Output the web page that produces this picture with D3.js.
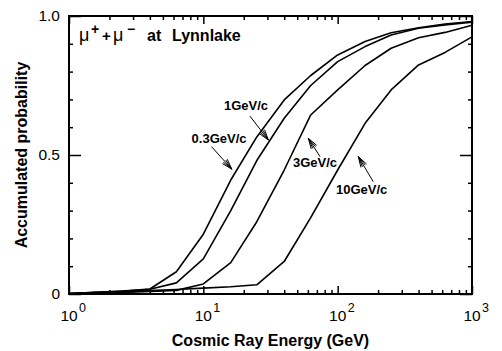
<!DOCTYPE html>
<html>
<head>
<meta charset="utf-8">
<script src="https://cdn.jsdelivr.net/npm/d3@7"></script>
<style>
  body { margin: 0; background: #fff; }
  svg { display: block; font-family: "Liberation Sans", Arial, Helvetica, sans-serif; }
</style>
</head>
<body>
<div id="chart"></div>
<script>
// cosmic ray energy (GeV) at the polyline vertices
const energies = [1, 1.6, 2.5, 4, 6.3, 10, 16, 25, 40, 63, 100, 160, 250, 400, 630, 1000];

// accumulated probability, one list per muon momentum
const prob03 = [0.002, 0.006, 0.011, 0.018, 0.080, 0.215, 0.410, 0.565, 0.698, 0.786, 0.860, 0.908, 0.940, 0.958, 0.971, 0.980];
const prob1  = [0.002, 0.006, 0.010, 0.017, 0.040, 0.126, 0.300, 0.480, 0.632, 0.750, 0.836, 0.890, 0.932, 0.956, 0.968, 0.978];
const prob3  = [0.001, 0.003, 0.006, 0.009, 0.013, 0.036, 0.113, 0.260, 0.446, 0.644, 0.734, 0.822, 0.884, 0.922, 0.941, 0.967];
const prob10 = [0.002, 0.005, 0.009, 0.012, 0.016, 0.021, 0.026, 0.033, 0.117, 0.275, 0.446, 0.614, 0.734, 0.824, 0.869, 0.925];

const seriesNames = ["0.3GeV/c", "1GeV/c", "3GeV/c", "10GeV/c"];
const seriesValues = [prob03, prob1, prob3, prob10];

const xTickPowers = [0, 1, 2, 3];
const yTickValues = [0, 0.5, 1.0];
const yTickLabels = ["0", "0.5", "1.0"];

// label anchor, arrow tail and arrow tip in data units
const labelE = [13.1, 20.8, 67.8, 151];
const labelP = [0.543, 0.662, 0.458, 0.360];
const tailE  = [11.5, 22.2, 73.9, 184];
const tailP  = [0.530, 0.640, 0.494, 0.404];
const tipE   = [16.3, 30.5, 60.5, 142.5];
const tipP   = [0.449, 0.554, 0.560, 0.494];

const W = 502, H = 351;
const margin = {top: 16, right: 30, bottom: 57, left: 69};
const width = W - margin.left - margin.right;
const height = H - margin.top - margin.bottom;

const svg = d3.select("#chart").append("svg")
    .attr("width", W)
    .attr("height", H);

const g = svg.append("g")
    .attr("transform", `translate(${margin.left},${margin.top})`);

const x = d3.scaleLog().domain([1, 1000]).range([0, width]);
const y = d3.scaleLinear().domain([0, 1]).range([height, 0]);

// ticks, all pointing inward
const xAll = x.ticks();
const xMajor = xAll.filter(d => Number.isInteger(Math.log10(d)));
const xMinor = xAll.filter(d => !Number.isInteger(Math.log10(d)));
const yMinor = y.ticks(10).filter(d => yTickValues.indexOf(d) < 0);

function tickAxis(axis, values, size, tx, ty) {
    const a = g.append("g")
        .attr("transform", `translate(${tx},${ty})`)
        .call(axis.tickValues(values).tickSize(size).tickFormat(""));
    a.select(".domain").remove();
    a.selectAll("line").attr("stroke", "#000").attr("stroke-width", 1.5);
}
tickAxis(d3.axisBottom(x), xMajor, -8, 0, height);
tickAxis(d3.axisBottom(x), xMinor, -4, 0, height);
tickAxis(d3.axisTop(x), xMajor, -8, 0, 0);
tickAxis(d3.axisTop(x), xMinor, -4, 0, 0);
tickAxis(d3.axisLeft(y), yTickValues, -12, 0, 0);
tickAxis(d3.axisLeft(y), yMinor, -4, 0, 0);
tickAxis(d3.axisRight(y), yTickValues, -12, width, 0);
tickAxis(d3.axisRight(y), yMinor, -4, width, 0);

// frame
g.append("rect")
    .attr("width", width)
    .attr("height", height)
    .attr("fill", "none")
    .attr("stroke", "#000")
    .attr("stroke-width", 2);

// curves
const line = d3.line()
    .x((d, i) => x(energies[i]))
    .y(d => y(d));

g.selectAll(".curve")
    .data(seriesValues)
    .enter()
    .append("path")
    .attr("class", "curve")
    .attr("d", line)
    .attr("fill", "none")
    .attr("stroke", "#000")
    .attr("stroke-width", 1.6)
    .attr("stroke-linejoin", "round");

// y tick labels
g.selectAll(".ylab")
    .data(yTickValues)
    .enter()
    .append("text")
    .attr("x", -9)
    .attr("y", d => y(d))
    .attr("dy", "0.35em")
    .attr("text-anchor", "end")
    .attr("font-size", 15.5)
    .text((d, i) => yTickLabels[i]);

// x tick labels 10^n
const xl = g.selectAll(".xlab")
    .data(xTickPowers)
    .enter()
    .append("g")
    .attr("transform", d => `translate(${x(Math.pow(10, d))},${height + 27})`);
xl.append("text")
    .attr("text-anchor", "middle")
    .attr("font-size", 15.5)
    .text("10");
xl.append("text")
    .attr("x", 10)
    .attr("y", -9)
    .attr("font-size", 12.5)
    .text(d => d);

// axis titles
g.append("text")
    .attr("x", width / 2)
    .attr("y", height + 52)
    .attr("text-anchor", "middle")
    .attr("font-size", 16)
    .attr("font-weight", "bold")
    .text("Cosmic Ray Energy (GeV)");

svg.append("text")
    .attr("transform", `translate(27,${margin.top + y(0.5)}) rotate(-90)`)
    .attr("text-anchor", "middle")
    .attr("font-size", 16)
    .attr("font-weight", "bold")
    .text("Accumulated probability");

// inset title
const title = svg.append("text").attr("y", 41).attr("font-weight", "bold");
title.append("tspan").attr("x", 79).attr("font-size", 18).attr("font-weight", "normal").text("μ");
title.append("tspan").attr("x", 91).attr("y", 34).attr("font-size", 14).text("+");
title.append("tspan").attr("x", 102).attr("y", 41).attr("font-size", 15).text("+");
title.append("tspan").attr("x", 113).attr("font-size", 18).attr("font-weight", "normal").text("μ");
title.append("tspan").attr("x", 127).attr("y", 34).attr("font-size", 14).text("−");
title.append("tspan").attr("x", 147).attr("y", 41).attr("font-size", 16).text("at");
title.append("tspan").attr("x", 172).attr("font-size", 16).text("Lynnlake");

// curve labels with arrows
seriesNames.forEach((name, i) => {
    g.append("text")
        .attr("x", x(labelE[i]))
        .attr("y", y(labelP[i]))
        .attr("text-anchor", "middle")
        .attr("font-size", 13)
        .attr("font-weight", "bold")
        .text(name);

    const x0 = x(tailE[i]), y0 = y(tailP[i]);
    const x1 = x(tipE[i]), y1 = y(tipP[i]);
    g.append("line")
        .attr("x1", x0).attr("y1", y0)
        .attr("x2", x1).attr("y2", y1)
        .attr("stroke", "#000").attr("stroke-width", 1);

    const ang = Math.atan2(y0 - y1, x0 - x1);
    const len = 11, spread = 0.3;
    [-spread, spread, -spread / 2, spread / 2].forEach(s => {
        g.append("line")
            .attr("x1", x1).attr("y1", y1)
            .attr("x2", x1 + len * Math.cos(ang + s))
            .attr("y2", y1 + len * Math.sin(ang + s))
            .attr("stroke", "#000").attr("stroke-width", 1);
    });
});
</script>
</body>
</html>
